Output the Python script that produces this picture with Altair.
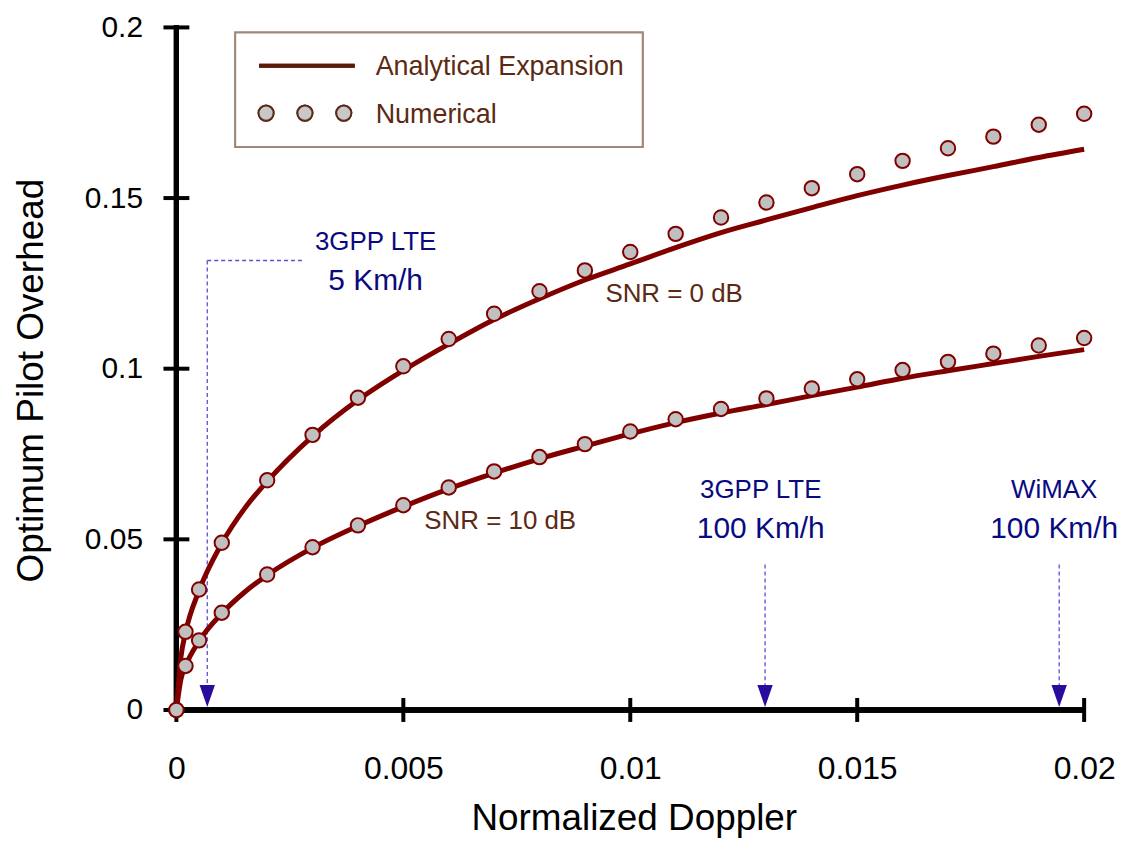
import altair as alt
import pandas as pd

# ---------------- data ----------------
doppler_num = [0, 0.0002, 0.0005, 0.001, 0.002, 0.003, 0.004, 0.005, 0.006, 0.007, 0.008,
               0.009, 0.010, 0.011, 0.012, 0.013, 0.014, 0.015, 0.016, 0.017, 0.018, 0.019, 0.020]
num_snr0 = [0, 0.0229, 0.0353, 0.0490, 0.0673, 0.0806, 0.0915, 0.1007, 0.1087, 0.1161, 0.1227,
            0.1288, 0.1342, 0.1395, 0.1443, 0.1487, 0.1529, 0.1570, 0.1609, 0.1646, 0.1680, 0.1715, 0.1747]
num_snr10 = [0, 0.0129, 0.0204, 0.0285, 0.0397, 0.0477, 0.0541, 0.0600, 0.0652, 0.0699, 0.0741,
             0.0779, 0.0816, 0.0852, 0.0882, 0.0913, 0.0942, 0.0969, 0.0996, 0.1020, 0.1044, 0.1068, 0.1090]

doppler_ana = [0, 0.0001, 0.0002, 0.0005, 0.001, 0.0015, 0.002, 0.003, 0.004, 0.005, 0.006, 0.007,
               0.008, 0.009, 0.010, 0.011, 0.012, 0.013, 0.014, 0.015, 0.016, 0.017, 0.018, 0.019, 0.020]
ana_snr0 = [0, 0.0155, 0.0226, 0.0350, 0.0488, 0.0590, 0.0670, 0.0802, 0.0908, 0.0995, 0.1072, 0.1144,
            0.1205, 0.1260, 0.1307, 0.1355, 0.1399, 0.1436, 0.1472, 0.1507, 0.1538, 0.1566, 0.1592, 0.1619, 0.1643]
ana_snr10 = [0, 0.0090, 0.0128, 0.0202, 0.0283, 0.0345, 0.0395, 0.0475, 0.0539, 0.0596, 0.0648, 0.0694,
             0.0736, 0.0773, 0.0809, 0.0842, 0.0870, 0.0895, 0.0921, 0.0946, 0.0972, 0.0994, 0.1015, 0.1036, 0.1056]

x_ticks = [0, 0.005, 0.01, 0.015, 0.02]
y_ticks = [0, 0.05, 0.1, 0.15, 0.2]

# annotations (data units)
speed_x = [0.00068, 0.01297, 0.01945]
leader_top = [0.1317, 0.0426, 0.0426]
leader_h_end = 0.00279
ann_text_x = [0.00439, 0.012875, 0.01934]
ann_line1 = ["3GPP LTE", "3GPP LTE", "WiMAX"]
ann_line2 = ["5 Km/h", "100 Km/h", "100 Km/h"]
ann_line1_y = [0.1372, 0.0645, 0.0645]
ann_line2_y = [0.1256, 0.0531, 0.0531]

snr_labels = ["SNR = 0 dB", "SNR = 10 dB"]
snr_label_x = [0.010966, 0.007135]
snr_label_y = [0.1219, 0.0555]

legend_labels = ["Analytical Expansion", "Numerical"]

# ---------------- tables ----------------
num_df = pd.DataFrame({
    "x": doppler_num * 2,
    "y": num_snr0 + num_snr10,
    "series": ["SNR 0"] * len(doppler_num) + ["SNR 10"] * len(doppler_num),
})
ana_df = pd.DataFrame({
    "x": doppler_ana * 2,
    "y": ana_snr0 + ana_snr10,
    "series": ["SNR 0"] * len(doppler_ana) + ["SNR 10"] * len(doppler_ana),
})
ann_df = pd.DataFrame({
    "sx": speed_x, "top": leader_top, "tx": ann_text_x,
    "l1": ann_line1, "l2": ann_line2, "y1": ann_line1_y, "y2": ann_line2_y,
})
hlead_df = pd.DataFrame({"x": [speed_x[0]], "x2": [leader_h_end], "y": [leader_top[0]]})
snr_df = pd.DataFrame({"label": snr_labels, "x": snr_label_x, "y": snr_label_y})
xt_df = pd.DataFrame({"x": x_ticks})
yt_df = pd.DataFrame({"y": y_ticks})

FONT = "Liberation Sans, Arial, sans-serif"
RED = "#800000"
BROWN = "#5c2a12"
NAVY = "#0a0a80"
DASH = "#5b4fd6"
ARROW = "#2a0b9c"

W, H = 911, 685

xs = alt.Scale(domain=[0, 0.02], nice=False, zero=False)
ys = alt.Scale(domain=[0, 0.2], nice=False, zero=False)

x_axis = alt.Axis(values=x_ticks, labelExpr="format(datum.value, '~g')", domain=False, ticks=False,
                  tickSize=0, grid=False, labelFontSize=32, labelFont=FONT, labelColor="black",
                  labelPadding=44, title="Normalized Doppler", titleFont=FONT, titleFontSize=37,
                  titleFontWeight="normal", titleColor="black", titleX=459, titleY=109,
                  titleAlign="center", titleBaseline="middle", labelFlush=False)
y_axis = alt.Axis(values=y_ticks, labelExpr="format(datum.value, '~g')", domain=False, ticks=False,
                  tickSize=0, grid=False, labelFontSize=30, labelFont=FONT, labelColor="black",
                  labelPadding=34, title="Optimum Pilot Overhead", titleFont=FONT, titleFontSize=37,
                  titleFontWeight="normal", titleColor="black", titleX=-145, titleY=354,
                  titleAlign="center", titleBaseline="middle", titleAngle=-90, labelFlush=False)

base_axes = alt.Chart(xt_df).mark_rule(opacity=0).encode(
    x=alt.X("x:Q", scale=xs, axis=x_axis),
    y=alt.value(0),
)
base_yaxis = alt.Chart(yt_df).mark_rule(opacity=0).encode(
    y=alt.Y("y:Q", scale=ys, axis=y_axis),
    x=alt.value(0),
)

# custom axis lines and crossing ticks
xline = alt.Chart(xt_df).mark_rule(color="black", strokeWidth=5).encode(
    x=alt.value(0), x2=alt.value(W), y=alt.value(H))
yline = alt.Chart(yt_df).mark_rule(color="black", strokeWidth=5).encode(
    y=alt.value(-2), y2=alt.value(H), x=alt.value(0))
xt = alt.Chart(xt_df).mark_rule(color="black", strokeWidth=4).encode(
    x=alt.X("x:Q", scale=xs), y=alt.value(H - 12), y2=alt.value(H + 12))
yt = alt.Chart(yt_df).mark_rule(color="black", strokeWidth=4).encode(
    y=alt.Y("y:Q", scale=ys), x=alt.value(-13), x2=alt.value(13))

# annotations
vlead = alt.Chart(ann_df).mark_rule(color=DASH, strokeWidth=1.3, strokeDash=[4, 3]).encode(
    x=alt.X("sx:Q", scale=xs), y=alt.Y("top:Q", scale=ys), y2=alt.value(H - 25))
hlead = alt.Chart(hlead_df).mark_rule(color=DASH, strokeWidth=1.3, strokeDash=[4, 3]).encode(
    x=alt.X("x:Q", scale=xs), x2="x2:Q", y=alt.Y("y:Q", scale=ys))
arrows = alt.Chart(ann_df).mark_point(shape="M-0.7,-1L0.7,-1L0,1Z", filled=True, size=484,
                                      color=ARROW, opacity=1).encode(
    x=alt.X("sx:Q", scale=xs), y=alt.value(H - 14))
t1 = alt.Chart(ann_df).mark_text(font=FONT, fontSize=26, color=NAVY, align="center",
                                 baseline="middle").encode(
    x=alt.X("tx:Q", scale=xs), y=alt.Y("y1:Q", scale=ys), text="l1:N")
t2 = alt.Chart(ann_df).mark_text(font=FONT, fontSize=30, color=NAVY, align="center",
                                 baseline="middle").encode(
    x=alt.X("tx:Q", scale=xs), y=alt.Y("y2:Q", scale=ys), text="l2:N")
snr_t = alt.Chart(snr_df).mark_text(font=FONT, fontSize=26, color=BROWN, align="center",
                                    baseline="middle").encode(
    x=alt.X("x:Q", scale=xs), y=alt.Y("y:Q", scale=ys), text="label:N")

# curves
lines = alt.Chart(ana_df).mark_line(color=RED, strokeWidth=5, interpolate="monotone").encode(
    x=alt.X("x:Q", scale=xs), y=alt.Y("y:Q", scale=ys), detail="series:N")
dots = alt.Chart(num_df).mark_point(filled=True, fill="#c0c0c0", stroke=RED, strokeWidth=2,
                                    size=210, opacity=1).encode(
    x=alt.X("x:Q", scale=xs), y=alt.Y("y:Q", scale=ys), detail="series:N")

# legend (drawn as a box)
leg_df = pd.DataFrame({"label": legend_labels})
leg_box = alt.Chart(leg_df).mark_rect(fill="white", stroke="#a08878", strokeWidth=2).encode(
    x=alt.value(59), x2=alt.value(468), y=alt.value(5), y2=alt.value(120))
leg_line = alt.Chart(leg_df).mark_rule(color="#5a1a0a", strokeWidth=4).encode(
    x=alt.value(83), x2=alt.value(179), y=alt.value(38.5))
leg_dot1 = alt.Chart(leg_df).mark_point(filled=True, fill="#c8c8c8", stroke="#5c2a1a", strokeWidth=2,
                                        size=230, opacity=1).encode(x=alt.value(90), y=alt.value(86))
leg_dot2 = leg_dot1.encode(x=alt.value(129), y=alt.value(86))
leg_dot3 = leg_dot1.encode(x=alt.value(168), y=alt.value(86))
leg_t1 = alt.Chart(pd.DataFrame({"label": [legend_labels[0]]})).mark_text(
    font=FONT, fontSize=27, color=BROWN, align="left", baseline="middle").encode(
    x=alt.value(200), y=alt.value(40), text="label:N")
leg_t2 = alt.Chart(pd.DataFrame({"label": [legend_labels[1]]})).mark_text(
    font=FONT, fontSize=27, color=BROWN, align="left", baseline="middle").encode(
    x=alt.value(200), y=alt.value(88), text="label:N")

chart = alt.layer(
    base_axes, base_yaxis, xline, yline, xt, yt,
    vlead, hlead, arrows, t1, t2, snr_t,
    lines, dots,
    leg_box, leg_line, leg_dot1, leg_dot2, leg_dot3, leg_t1, leg_t2,
).properties(
    width=W, height=H,
    padding={"left": 169, "top": 18, "right": 40, "bottom": 130},
    autosize=alt.AutoSizeParams(type="none"),
    background="white",
).configure_view(stroke=None)

chart.save("out.html", embed_options={"renderer": "svg", "actions": False})
